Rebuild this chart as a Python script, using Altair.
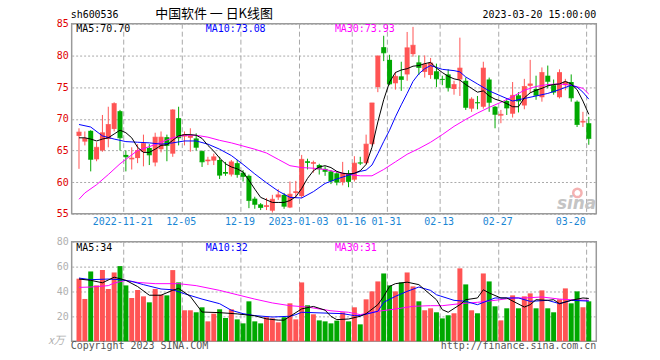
import altair as alt
import pandas as pd

# ---------------- data ----------------
dates = ["2022-11-09","2022-11-10","2022-11-11","2022-11-14","2022-11-15","2022-11-16","2022-11-17","2022-11-18",
         "2022-11-21","2022-11-22","2022-11-23","2022-11-24","2022-11-25","2022-11-28","2022-11-29","2022-11-30",
         "2022-12-01","2022-12-02","2022-12-05","2022-12-06","2022-12-07","2022-12-08","2022-12-09","2022-12-12",
         "2022-12-13","2022-12-14","2022-12-15","2022-12-16","2022-12-19","2022-12-20","2022-12-21","2022-12-22",
         "2022-12-23","2022-12-26","2022-12-27","2022-12-28","2022-12-29","2022-12-30","2023-01-03","2023-01-04",
         "2023-01-05","2023-01-06","2023-01-09","2023-01-10","2023-01-11","2023-01-12","2023-01-13","2023-01-16",
         "2023-01-17","2023-01-18","2023-01-19","2023-01-20","2023-01-30","2023-01-31","2023-02-01","2023-02-02",
         "2023-02-03","2023-02-06","2023-02-07","2023-02-08","2023-02-09","2023-02-10","2023-02-13","2023-02-14",
         "2023-02-15","2023-02-16","2023-02-17","2023-02-20","2023-02-21","2023-02-22","2023-02-23","2023-02-24",
         "2023-02-27","2023-02-28","2023-03-01","2023-03-02","2023-03-03","2023-03-06","2023-03-07","2023-03-08",
         "2023-03-09","2023-03-10","2023-03-13","2023-03-14","2023-03-15","2023-03-16","2023-03-17","2023-03-20"]

opens = [67.3,66.4,68.1,63.6,65.0,66.8,68.4,71.2,64.3,63.6,
         63.8,64.8,65.4,63.1,65.2,67.1,64.5,70.1,67.2,67.0,
         66.9,64.9,63.3,63.4,63.5,61.6,61.2,63.0,61.5,61.0,
         57.4,56.5,56.1,55.5,57.6,58.0,56.0,58.3,57.8,63.3,
         62.9,62.7,62.1,61.7,61.4,60.0,61.4,60.4,63.1,63.0,
         66.0,75.0,81.3,79.3,75.6,76.7,77.0,80.2,78.9,77.4,
         76.9,77.5,76.3,77.0,74.7,76.2,76.0,71.6,72.6,71.9,
         76.2,71.9,70.5,72.8,70.8,73.7,72.1,75.2,74.7,73.4,
         76.8,75.3,73.4,75.3,75.8,72.7,69.4,69.3]
highs = [68.5,68.0,68.2,66.3,70.6,71.9,72.6,71.4,65.0,65.5,
         66.0,67.5,66.0,67.8,68.0,67.5,71.5,71.9,68.0,68.5,
         67.7,65.0,64.0,64.5,64.0,63.2,63.5,63.5,61.9,61.2,
         57.7,56.7,57.5,58.0,58.9,58.3,60.1,60.2,64.3,63.7,
         63.4,62.9,62.5,61.9,61.7,63.2,61.9,64.1,64.0,67.5,
         72.5,80.0,83.1,80.1,77.4,79.0,83.7,84.5,80.0,80.0,
         79.6,78.7,76.8,77.8,76.0,82.8,76.5,73.4,73.6,79.0,
         76.5,72.0,71.4,73.2,75.8,74.2,76.3,79.3,76.8,78.1,
         78.4,76.2,77.8,76.3,77.0,72.9,71.1,70.3]
lows = [62.1,65.8,61.7,63.3,64.8,65.5,68.0,65.0,61.7,62.0,
        63.0,62.5,62.7,62.5,64.7,63.3,64.0,65.8,65.8,64.8,
        65.0,62.4,62.7,62.7,60.5,61.0,60.9,60.7,60.1,55.9,
        55.8,55.6,55.6,55.2,57.2,55.8,55.9,57.5,57.5,62.0,
        61.5,61.2,61.0,59.7,59.5,59.5,59.2,60.1,62.7,62.8,
        65.8,74.2,79.1,75.3,74.6,74.4,76.0,79.8,76.9,76.5,
        76.3,75.0,75.3,74.3,73.8,73.6,71.4,71.1,71.5,71.6,
        71.1,68.5,69.3,70.6,70.2,71.0,71.5,74.1,73.0,72.7,
        74.8,73.8,73.2,74.5,72.7,68.7,68.7,65.9]
closes = [67.9,66.9,63.6,65.5,67.8,69.1,72.4,67.0,64.0,63.8,
          65.0,66.1,64.3,67.1,67.1,65.8,71.4,67.0,67.5,67.3,
          65.5,63.2,63.5,64.0,61.1,61.4,63.2,61.2,60.9,57.1,
          56.5,56.0,56.3,57.3,58.0,56.2,58.1,58.5,63.6,63.1,
          63.1,62.1,61.7,60.2,60.0,61.4,60.1,63.0,63.0,66.0,
          72.5,79.9,80.4,75.5,76.7,76.2,81.2,81.6,78.1,78.6,
          78.8,76.3,76.2,74.9,75.4,78.0,71.8,73.1,72.5,78.0,
          72.6,70.7,70.7,71.7,73.7,72.8,75.1,75.5,73.7,77.3,
          75.9,74.2,77.3,75.8,73.3,69.1,69.6,66.9]
volumes = [50.3,34.0,56.1,44.9,57.2,42.0,55.3,60.4,44.9,34.8,
           41.2,36.1,31.3,42.0,37.4,36.9,57.2,47.3,24.9,24.9,
           23.3,27.3,16.0,22.2,25.7,18.7,25.7,17.6,14.4,32.1,
           16.0,14.4,19.3,18.4,15.2,19.3,30.5,17.6,47.3,28.9,
           21.7,16.8,16.0,14.4,16.6,23.3,16.0,27.3,13.6,33.7,
           40.1,48.1,54.5,44.9,40.1,47.3,55.3,44.1,32.1,24.9,
           26.5,23.3,18.4,20.9,22.5,58.6,45.7,24.9,22.5,54.5,
           48.1,28.1,16.8,26.5,36.9,26.5,36.1,38.5,26.5,40.9,
           26.5,23.3,33.7,42.5,30.5,40.1,27.3,32.1]

ma5 = [67.0,67.0,66.8,66.5,66.8,67.0,67.6,68.2,67.8,67.0,
       65.5,64.7,64.7,65.2,65.8,65.9,66.6,67.3,67.5,67.5,
       67.4,66.9,65.8,64.9,63.8,62.9,62.4,62.1,61.6,60.3,
       58.9,57.6,57.2,56.8,56.8,56.8,57.1,57.7,59.0,60.6,
       61.8,62.4,62.6,62.3,61.7,61.4,61.3,61.4,61.8,62.8,
       65.5,69.5,73.0,75.8,77.3,77.7,77.9,78.3,78.4,78.7,
       78.9,78.0,77.3,76.7,76.3,76.1,75.4,74.8,74.2,74.4,
       73.6,73.1,72.8,72.4,71.9,71.9,73.3,74.1,74.5,74.8,
       75.2,75.4,75.5,75.9,75.5,74.6,72.8,70.7]
ma10_i = [0,2,4,6,8,10,12,14,16,18,20,22,24,26,28,30,32,34,36,38,40,42,44,46,48,49,50,51,52,53,
          54,55,56,57,58,59,60,61,62,64,65,66,68,70,72,74,76,78,80,82,84,85,86,87]
ma10_v = [69.1,68.7,67.3,66.8,66.4,66.3,66.2,66.0,66.2,66.5,66.5,66.0,65.2,64.2,62.8,61.3,59.9,58.6,57.6,57.5,
          58.5,59.8,60.5,61.1,61.7,61.9,62.7,64.5,66.4,68.2,70.3,72.2,74.0,75.9,77.1,77.9,78.4,78.1,77.8,77.6,
          77.4,76.6,75.5,74.4,73.6,72.8,73.2,73.6,74.0,74.6,75.3,75.0,74.2,73.1]
ma30_i = [0,1,3,5,7,8,10,12,14,16,18,20,22,24,26,28,30,32,34,36,38,40,42,44,46,48,50,52,54,56,
          58,60,62,64,66,68,70,72,74,76,78,80,82,84,86,87]
ma30_v = [57.3,58.3,59.6,61.2,62.9,63.6,65.0,65.6,66.3,67.0,67.4,67.4,67.1,66.6,66.2,65.7,65.2,64.6,63.6,62.6,
          62.3,62.2,62.0,61.6,61.2,61.0,61.0,62.0,63.2,64.4,65.3,66.3,67.5,68.8,69.9,70.9,71.8,72.6,73.5,74.5,
          75.1,75.4,75.5,75.3,74.8,73.9]

vma5_i = [0,2,4,6,8,10,12,14,16,17,19,21,24,27,30,32,34,35,36,38,40,42,43,44,46,48,49,51,52,53,
          54,56,58,59,61,62,63,65,66,68,69,70,72,73,76,77,78,80,81,82,84,86,87]
vma5_v = [50,49,47,51.5,49,44,37,37,41,42.5,36,23.5,23,22,20.5,18,17,17,20,26,28,25,20,17.4,17.9,20.1,22.2,29.4,36.1,44.1,
          46.3,47.5,45.5,41.4,33.4,25.4,23.3,29.4,33.4,34.8,41.4,38.8,34.8,34.8,27.5,29.4,33.4,32.9,33.4,30.2,32.9,34.8,34.4]
vma10_i = [0,2,5,7,9,11,14,16,18,21,24,26,28,30,33,36,37,38,43,45,47,48,51,52,54,56,58,60,61,64,
           66,68,71,73,75,77,80,82,84,87]
vma10_v = [50.8,49.5,50.0,49.5,48.1,45.5,42.0,41.4,38.2,33.9,30.2,24.9,22.2,20.6,19.5,20.1,21.4,23.3,22.5,22.2,
           20.6,20.6,24.1,31.3,36.1,40.1,43.6,40.9,37.4,32.9,32.1,29.4,34.8,34.8,34.8,32.1,32.9,30.2,32.9,32.3]
vma30_i = [0,2,5,6,8,10,13,17,20,24,27,30,33,36,39,43,46,48,51,54,57,60,62,65,68,71,74,76,79,82,84,87]
vma30_v = [43.3,43.6,44.7,46.8,48.9,47.3,46.3,46.3,44.7,40.9,37.4,33.9,30.8,28.6,27.5,24.5,23.3,21.4,24.1,25.9,
           28.1,28.6,28.6,30.2,31.3,32.9,34.8,34.8,35.6,33.9,33.4,32.9]

axis_dates = ["2022-11-21","2022-12-05","2022-12-19","2023-01-03","2023-01-16",
              "2023-01-31","2023-02-13","2023-02-27","2023-03-20"]
axis_labels = ["2022-11-21","12-05","12-19","2023-01-03","01-16","01-31","02-13","02-27","03-20"]
price_ticks = [55, 60, 65, 70, 75, 80, 85]
vol_ticks = [20, 40, 60, 80]

# ---------------- styling ----------------
W, PH, VH = 527, 191, 100
MONO = "DejaVu Sans Mono"
CJK = "Noto Sans CJK SC"
UP, DOWN = "#ff5454", "#00a800"
GRID = "#a8a8a8"

n = len(dates)
df = pd.DataFrame({"i": list(range(n)), "date": dates, "open": opens, "high": highs,
                   "low": lows, "close": closes, "vol": volumes})
df["dir"] = ["up" if c >= o else "down" for o, c in zip(opens, closes)]

xsc = alt.Scale(domain=[-0.4, 87.43], nice=False, zero=False)
psc = alt.Scale(domain=[55, 85], nice=False, zero=False)
vsc = alt.Scale(domain=[0, 80], nice=False, zero=True)
col = alt.Color("dir:N", scale=alt.Scale(domain=["up", "down"], range=[UP, DOWN]), legend=None)
X = alt.X("i:Q", scale=xsc, axis=None)

paxis = alt.Axis(values=price_ticks, labelColor="#e00000", labelFont=MONO, labelFontSize=10,
                 domain=False, ticks=False, tickSize=0, labelPadding=3.5, grid=True,
                 gridDash=[2, 2], gridColor=GRID, gridWidth=1, title=None, labelBaseline="middle")
vaxis = alt.Axis(values=vol_ticks, labelColor="#b0b0b0", labelFont=MONO, labelFontSize=10,
                 domain=False, ticks=False, tickSize=0, labelPadding=3.5, grid=True,
                 gridDash=[2, 2], gridColor=GRID, gridWidth=1, title=None, labelBaseline="middle")

grid_df = pd.DataFrame({"gx": [dates.index(d) - 0.37 for d in axis_dates], "label": axis_labels})


def txt(text, x, y, color, align="left", font=MONO, size=10, **kw):
    return alt.Chart(pd.DataFrame({"t": [text]})).mark_text(
        align=align, baseline="middle", font=font, fontSize=size, color=color, **kw
    ).encode(x=alt.value(x), y=alt.value(y), text="t:N")


def line(idx, vals, color, ysc, axis):
    return alt.Chart(pd.DataFrame({"i": idx, "v": vals})).mark_line(
        color=color, strokeWidth=1).encode(x=X, y=alt.Y("v:Q", scale=ysc, axis=axis))


vgrid = alt.Chart(grid_df).mark_rule(color=GRID, strokeDash=[5, 3], strokeWidth=1).encode(
    x=alt.X("gx:Q", scale=xsc, axis=None))

# invisible box fixing the page bounds (660 x 360, plot at 70,21)
bbox = alt.Chart(pd.DataFrame({"a": [0]})).mark_rect(opacity=0).encode(
    x=alt.value(-70.3), x2=alt.value(589.7), y=alt.value(-21.3), y2=alt.value(338.7))

base = alt.Chart(df)
wick = base.mark_rule(strokeWidth=1).encode(x=X, y=alt.Y("low:Q", scale=psc, axis=paxis), y2="high:Q", color=col)
body = base.mark_bar(size=5).encode(x=X, y=alt.Y("open:Q", scale=psc, axis=paxis), y2="close:Q", color=col)
cross = base.mark_tick(orient="horizontal", size=5, thickness=1).encode(
    x=X, y=alt.Y("close:Q", scale=psc, axis=paxis), color=col)

date_lbl = alt.Chart(grid_df.iloc[:-1]).mark_text(
    font=MONO, fontSize=10, color="#1a86d4", align="center", baseline="middle", dx=-1
).encode(x=alt.X("gx:Q", scale=xsc, axis=None), y=alt.value(199.5), text="label:N")
date_last = alt.Chart(grid_df.iloc[-1:]).mark_text(
    font=MONO, fontSize=10, color="#1a86d4", align="right", baseline="middle", dx=-1
).encode(x=alt.X("gx:Q", scale=xsc, axis=None), y=alt.value(199.5), text="label:N")

logo_eye = alt.Chart(pd.DataFrame({"a": [0]})).mark_point(
    shape="circle", size=70, stroke="#f2a0a0", strokeWidth=2.5, filled=False, opacity=0.8
).encode(x=alt.value(508), y=alt.value(170))

price = alt.layer(
    bbox, vgrid, wick, body, cross,
    line(ma30_i, ma30_v, "#ff00ff", psc, paxis),
    line(ma10_i, ma10_v, "#0000ff", psc, paxis),
    line(list(range(n)), ma5, "#000000", psc, paxis),
    date_lbl, date_last,
    logo_eye,
    txt("sina", 527, 181, "#c4c4c4", align="right", font="DejaVu Sans", size=17,
        fontStyle="italic", fontWeight="bold"),
    txt("sh600536", -1, -8.8, "#000000"),
    txt("中国软件  一  日K线图", 143, -9.8, "#000000", align="center", font=CJK, size=13),
    txt("2023-03-20 15:00:00", 527, -8.8, "#000000", align="right"),
    txt("MA5:70.70", 4.7, 5.0, "#000000"),
    txt("MA10:73.08", 134.7, 5.0, "#0000ff"),
    txt("MA30:73.93", 264.4, 5.0, "#ff00ff"),
).properties(width=W, height=PH)

vbase = alt.Chart(df)
vbars = vbase.mark_bar(size=5).encode(x=X, y=alt.Y("vol:Q", scale=vsc, axis=vaxis), color=col)

vol = alt.layer(
    vgrid, vbars,
    line(vma30_i, vma30_v, "#ff00ff", vsc, vaxis),
    line(vma10_i, vma10_v, "#0000ff", vsc, vaxis),
    line(vma5_i, vma5_v, "#000000", vsc, vaxis),
    txt("MA5:34", 4.7, 6.8, "#000000"),
    txt("MA10:32", 134.7, 6.8, "#0000ff"),
    txt("MA30:31", 264.4, 6.8, "#ff00ff"),
    txt("x万", -7, 100.2, "#b0b0b0", align="right", font=CJK, size=11, fontStyle="italic"),
    txt("Copyright 2023 SINA.COM", -1, 104.7, "#555555"),
    txt("http://finance.sina.com.cn", 527, 104.7, "#555555", align="right"),
).properties(width=W, height=VH)

chart = alt.vconcat(price, vol, spacing=28, bounds="flush").properties(
    padding=0, background="white"
).configure_view(stroke="#9a9a9a", strokeWidth=1.5)

chart.save("out.html", embed_options={"renderer": "svg", "actions": False})
